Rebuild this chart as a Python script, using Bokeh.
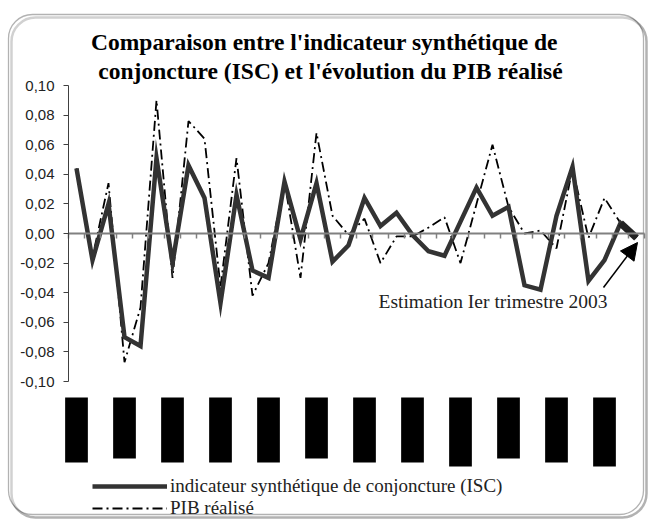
from bokeh.plotting import figure
from bokeh.models import (Range1d, FixedTicker, CustomJSTickFormatter, Label, Arrow,
                          NormalHead, Legend, LegendItem, BoxAnnotation)
from bokeh.embed import file_html
from bokeh.resources import INLINE

# ---------------- data ----------------
isc = [0.044, -0.018, 0.020, -0.070, -0.076, 0.051, -0.020, 0.046, 0.024, -0.047,
       0.026, -0.025, -0.030, 0.035, -0.004, 0.034, -0.019, -0.008, 0.024, 0.005,
       0.014, -0.001, -0.012, -0.015, 0.008, 0.031, 0.012, 0.018, -0.035, -0.038,
       0.012, 0.045, -0.032, -0.018, 0.007, -0.003]
pib = [0.044, -0.016, 0.034, -0.087, -0.050, 0.090, -0.030, 0.076, 0.064, -0.036,
       0.051, -0.042, -0.020, 0.035, -0.030, 0.068, 0.012, -0.001, 0.010, -0.020,
       -0.002, -0.002, 0.004, 0.011, -0.020, 0.020, 0.060, 0.018, 0.000, 0.002,
       -0.010, 0.044, -0.003, 0.024, 0.007, -0.003]
y_ticks = [round(-0.10 + 0.02 * k, 2) for k in range(11)]
# redacted category labels (one every 3 quarters), lengths in px
label_every = 3
label_block_len = [65, 61, 65, 65, 65, 61, 65, 65, 69, 61, 65, 69]

title1 = "Comparaison entre l'indicateur synthétique de"
title2 = "conjoncture (ISC) et l'évolution du PIB réalisé"
note = "Estimation Ier trimestre 2003"
leg_isc = "indicateur synthétique de conjoncture (ISC)"
leg_pib = "PIB réalisé"

# ---------------- geometry ----------------
W, H = 648, 519
n = len(isc)
xs = [i + 0.5 for i in range(n)]
XPX = 1 / 16.0              # category units per pixel
PX = 0.02 / 29.6            # value units per pixel
X0_PX, Y_TOP_PX = 68, 85    # pixel position of x=0 and y=0.10
Y_TOP = 0.10


def dx(px):
    return (px - X0_PX) * XPX


def dy(py):
    return Y_TOP - (py - Y_TOP_PX) * PX


p = figure(frame_width=W, frame_height=H,
           x_range=Range1d(dx(0), dx(W)), y_range=Range1d(dy(H), dy(0)),
           output_backend="svg", toolbar_location=None,
           min_border_left=0, min_border_right=0, min_border_top=0,
           min_border_bottom=0)
p.background_fill_color = "white"
p.border_fill_color = "white"
p.outline_line_color = None
p.grid.visible = False

# rounded frame with a small drop shadow
p.add_layout(BoxAnnotation(left=dx(11), right=dx(646), top=dy(17), bottom=dy(517),
                           fill_color=None, line_color="black", line_width=2.5,
                           border_radius=24, level="underlay"))
p.add_layout(BoxAnnotation(left=dx(8), right=dx(643), top=dy(14), bottom=dy(514),
                           fill_color="white", line_color="black", line_width=1.3,
                           border_radius=24, level="underlay"))

# y axis
p.yaxis.fixed_location = 0
p.yaxis.bounds = (-0.10, 0.10)
p.yaxis.ticker = FixedTicker(ticks=y_ticks)
p.yaxis.formatter = CustomJSTickFormatter(code="return tick.toFixed(2).replace('.', ',');")
p.yaxis.axis_line_color = "#404040"
p.yaxis.major_tick_line_color = "#404040"
p.yaxis.major_tick_out = 5
p.yaxis.major_tick_in = 0
p.yaxis.minor_tick_line_color = None
p.yaxis.major_label_text_font = "Liberation Sans"
p.yaxis.major_label_text_font_size = "15px"
p.yaxis.major_label_text_color = "#222222"
p.yaxis.major_label_standoff = 9

# x axis crossing at 0
p.xaxis.fixed_location = 0
p.xaxis.bounds = (0, n)
p.xaxis.ticker = FixedTicker(ticks=list(range(0, n + 1)))
p.xaxis.formatter = CustomJSTickFormatter(code="return '';")
p.xaxis.axis_line_color = "#808080"
p.xaxis.axis_line_width = 2
p.xaxis.major_tick_line_color = "#808080"
p.xaxis.major_tick_line_width = 1.5
p.xaxis.major_tick_out = 5
p.xaxis.major_tick_in = 0
p.xaxis.minor_tick_line_color = None

# series
r_pib = p.line(xs, pib, line_color="black", line_width=1.8, line_dash="10 4 2 4")
r_isc = p.line(xs, isc, line_color="#333333", line_width=4.5, line_join="miter")
p.line(xs[-2:], isc[-2:], line_color="#222222", line_width=7)

# redacted category labels
bar_top = dy(397)
lx = [xs[i] for i in range(0, n, label_every)]
p.quad(left=[x - 0.71 for x in lx], right=[x + 0.71 for x in lx],
       top=[bar_top] * len(lx), bottom=[bar_top - L * PX for L in label_block_len],
       fill_color="black", line_color=None)

# titles
for txt, cx, py in ((title1, 324, 41), (title2, 330, 70)):
    p.add_layout(Label(x=dx(cx), y=dy(py), text=txt,
                       text_align="center", text_baseline="middle",
                       text_font="Liberation Serif", text_font_style="bold",
                       text_font_size="23.5px", text_color="black"))

# annotation
p.add_layout(Label(x=dx(378), y=dy(301), text=note,
                   text_align="left", text_baseline="middle",
                   text_font="Liberation Serif", text_font_size="19.5px",
                   text_color="#222222"))
p.add_layout(Arrow(end=NormalHead(size=17, fill_color="black", line_color="black"),
                   x_start=dx(603), y_start=dy(287), x_end=dx(637), y_end=dy(242),
                   line_color="black", line_width=1.5))

legend = Legend(items=[LegendItem(label=leg_isc, renderers=[r_isc]),
                       LegendItem(label=leg_pib, renderers=[r_pib])],
                location=(92, 0), padding=0, margin=0, spacing=0,
                glyph_width=75, glyph_height=16, label_height=16, label_standoff=3,
                label_text_font="Liberation Serif", label_text_font_size="19px",
                label_text_color="#222222",
                border_line_color=None, background_fill_alpha=0)
p.add_layout(legend)

open("out.html", "w").write(file_html(p, INLINE))
